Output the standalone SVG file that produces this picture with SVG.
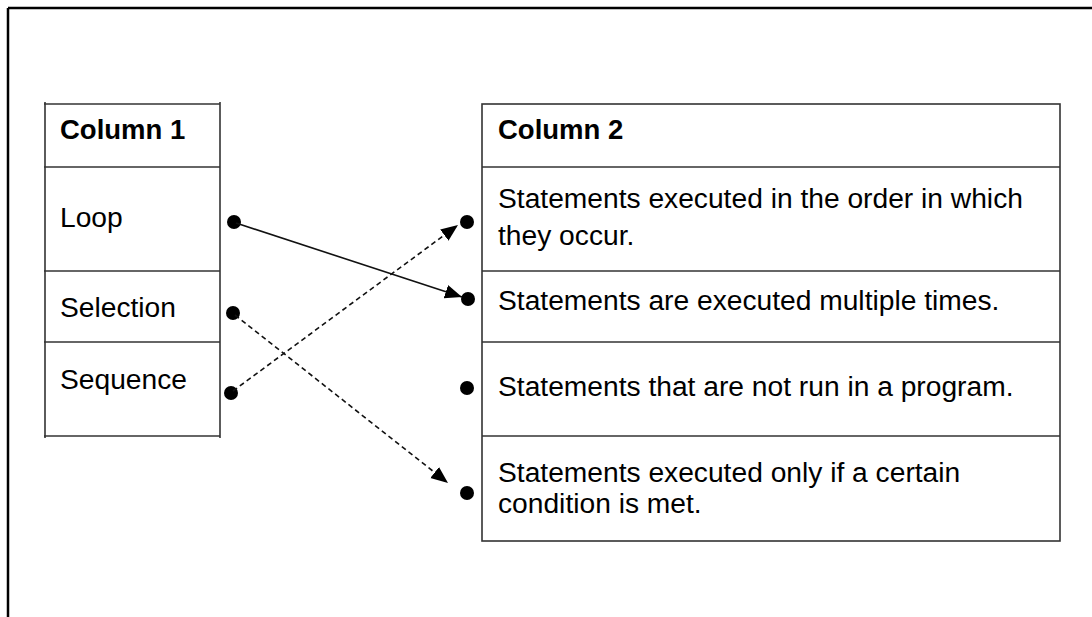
<svg xmlns="http://www.w3.org/2000/svg" width="1092" height="617" viewBox="0 0 1092 617">
<style>
.t{font-family:"Liberation Sans",Arial,sans-serif;font-size:28.2px;fill:#000}
.b{font-weight:bold;font-size:27.5px}
.cell{fill:none;stroke:#333;stroke-width:1.6}
.dot{fill:#000}
.c{fill:none;stroke:#111;stroke-width:1.6}
.d{stroke-dasharray:5,3.5}
</style>
<defs>
<marker id="ah" markerUnits="userSpaceOnUse" markerWidth="20" markerHeight="16" refX="17" refY="7" orient="auto">
<path d="M0,0 L17,7 L0,14 Z" fill="#000"/>
</marker>
</defs>
<rect width="1092" height="617" fill="#fff"/>
<g id="frame">
<line x1="8" y1="8" x2="1092" y2="8" stroke="#000" stroke-width="2.5"/>
<line x1="8" y1="8" x2="8" y2="617" stroke="#000" stroke-width="2.5"/>
</g>
<g id="col1">
<line class="cell" x1="44" y1="104" x2="220" y2="104"/>
<line class="cell" x1="44" y1="167" x2="220" y2="167"/>
<line class="cell" x1="44" y1="271" x2="220" y2="271"/>
<line class="cell" x1="44" y1="342" x2="220" y2="342"/>
<line class="cell" x1="44" y1="436" x2="220" y2="436"/>
<line class="cell" x1="45" y1="102" x2="45" y2="438"/>
<line class="cell" x1="220" y1="102" x2="220" y2="438"/>
</g>
<g id="col1-header"><text class="t b" x="60" y="139">Column 1</text></g>
<g id="loop"><text class="t" x="60" y="227">Loop</text><circle class="dot" cx="234" cy="222" r="7"/></g>
<g id="selection"><text class="t" x="60" y="317">Selection</text><circle class="dot" cx="233" cy="313" r="7"/></g>
<g id="sequence"><text class="t" x="60" y="389">Sequence</text><circle class="dot" cx="231" cy="393" r="7"/></g>
<g id="col2">
<rect class="cell" x="482" y="104" width="578" height="437"/>
<line class="cell" x1="482" y1="167" x2="1060" y2="167"/>
<line class="cell" x1="482" y1="271" x2="1060" y2="271"/>
<line class="cell" x1="482" y1="342" x2="1060" y2="342"/>
<line class="cell" x1="482" y1="436" x2="1060" y2="436"/>
</g>
<g id="col2-header"><text class="t b" x="498" y="139">Column 2</text></g>
<g id="sequence-def"><circle class="dot" cx="467" cy="222" r="7"/><text class="t" x="498" y="208">Statements executed in the order in which</text><text class="t" x="498" y="245">they occur.</text></g>
<g id="loop-def"><circle class="dot" cx="468" cy="299" r="7"/><text class="t" x="498" y="310">Statements are executed multiple times.</text></g>
<g id="unused-def"><circle class="dot" cx="467" cy="388" r="7"/><text class="t" x="498" y="396">Statements that are not run in a program.</text></g>
<g id="selection-def"><circle class="dot" cx="467" cy="493" r="7"/><text class="t" x="498" y="482">Statements executed only if a certain</text><text class="t" x="498" y="513">condition is met.</text></g>
<g id="connectors">
<line class="c" x1="236" y1="223" x2="462" y2="297" marker-end="url(#ah)"/>
<line class="c d" x1="233" y1="391" x2="458" y2="225" marker-end="url(#ah)"/>
<line class="c d" x1="235" y1="315" x2="448" y2="483" marker-end="url(#ah)"/>
</g>
</svg>
